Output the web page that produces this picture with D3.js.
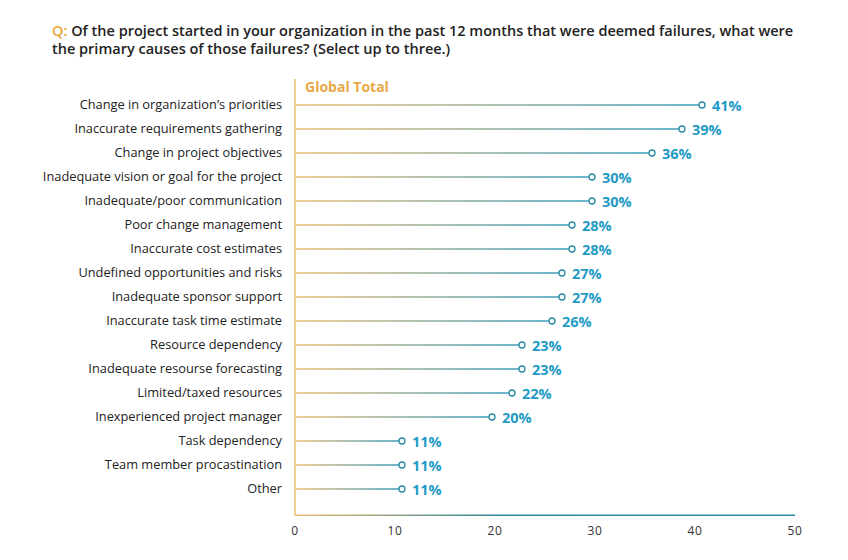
<!DOCTYPE html>
<html>
<head>
<meta charset="utf-8">
<script src="https://d3js.org/d3.v7.min.js"></script>
<style>
  body { margin: 0; background: #fff; }
  text { font-family: "Open Sans", "Noto Sans", sans-serif; }
</style>
</head>
<body>
<svg id="chart" width="848" height="560"></svg>
<script>
// data
const causes = [
  "Change in organization\u2019s priorities",
  "Inaccurate requirements gathering",
  "Change in project objectives",
  "Inadequate vision or goal for the project",
  "Inadequate/poor communication",
  "Poor change management",
  "Inaccurate cost estimates",
  "Undefined opportunities and risks",
  "Inadequate sponsor support",
  "Inaccurate task time estimate",
  "Resource dependency",
  "Inadequate resourse forecasting",
  "Limited/taxed resources",
  "Inexperienced project manager",
  "Task dependency",
  "Team member procastination",
  "Other"
];
const globalTotal = [41, 39, 36, 30, 30, 28, 28, 27, 27, 26, 23, 23, 22, 20, 11, 11, 11];
const xTicks = [0, 10, 20, 30, 40, 50];

const svg = d3.select("#chart");
const x = d3.scaleLinear().domain([0, 50]).range([295, 795]);
const y = d3.scalePoint().domain(causes).range([105, 489]);
const markShift = -3; // dots sit slightly left of the tick grid in the original

const gold = "#ecbd72", teal = "#3b9dbd", dark = "#2a8aa6";

// gradients
const defs = svg.append("defs");
const g1 = defs.append("linearGradient").attr("id", "lineGrad")
    .attr("x1", "0%").attr("x2", "100%").attr("y1", "0%").attr("y2", "0%");
g1.append("stop").attr("offset", "0%").attr("stop-color", gold);
g1.append("stop").attr("offset", "100%").attr("stop-color", teal);
const g2 = defs.append("linearGradient").attr("id", "axisGrad")
    .attr("x1", "0%").attr("x2", "100%").attr("y1", "0%").attr("y2", "0%");
g2.append("stop").attr("offset", "0%").attr("stop-color", gold);
g2.append("stop").attr("offset", "40%").attr("stop-color", "#2f8795");
g2.append("stop").attr("offset", "100%").attr("stop-color", "#2a8aa0");

// title
const title = svg.append("text").attr("x", 52).attr("y", 36)
    .attr("font-size", 14.5).attr("font-weight", 600).attr("fill", "#222");
title.append("tspan").attr("fill", "#e8a838").text("Q: ");
title.append("tspan").text("Of the project started in your organization in the past 12 months that were deemed failures, what were");
svg.append("text").attr("x", 52).attr("y", 54)
    .attr("font-size", 14.5).attr("font-weight", 600).attr("fill", "#222")
    .text("the primary causes of those failures? (Select up to three.)");

svg.append("text").attr("x", 305).attr("y", 92)
    .attr("font-size", 14).attr("font-weight", 700).attr("fill", "#e8a848")
    .text("Global Total");

// axes lines
svg.append("line").attr("x1", x(0)).attr("x2", x(0)).attr("y1", 79).attr("y2", 516)
    .attr("stroke", "#f0cf92").attr("stroke-width", 2);
svg.append("rect").attr("x", x(0)).attr("y", 514.5).attr("width", x(50) - x(0)).attr("height", 1.5)
    .attr("fill", "url(#axisGrad)");

svg.append("g").selectAll("text").data(xTicks).join("text")
    .attr("x", d => x(d)).attr("y", 535)
    .attr("text-anchor", "middle").attr("font-size", 12).attr("fill", "#333")
    .attr("letter-spacing", 0.6)
    .text(d => d);

// category labels
svg.append("g").selectAll("text").data(causes).join("text")
    .attr("x", 282).attr("y", d => y(d)).attr("dy", "0.35em")
    .attr("text-anchor", "end").attr("font-size", 12.8).attr("fill", "#222")
    .text(d => d);

const rows = causes.map((c, i) => ({ c, v: globalTotal[i] }));

// lollipop stems
svg.append("g").selectAll("rect").data(rows).join("rect")
    .attr("x", x(0) + 1).attr("y", d => y(d.c) - 0.75)
    .attr("width", d => x(d.v) + markShift - x(0) - 4).attr("height", 1.5)
    .attr("fill", "url(#lineGrad)");

svg.append("g").selectAll("circle").data(rows).join("circle")
    .attr("cx", d => x(d.v) + markShift).attr("cy", d => y(d.c)).attr("r", 3)
    .attr("fill", "#fff").attr("stroke", dark).attr("stroke-width", 1.3);

svg.append("g").selectAll("text").data(rows).join("text")
    .attr("x", d => x(d.v) + markShift + 10).attr("y", d => y(d.c)).attr("dy", "0.38em")
    .attr("font-size", 14.5).attr("font-weight", 700).attr("fill", "#1f9bc6")
    .text(d => d.v + "%");
</script>
</body>
</html>
